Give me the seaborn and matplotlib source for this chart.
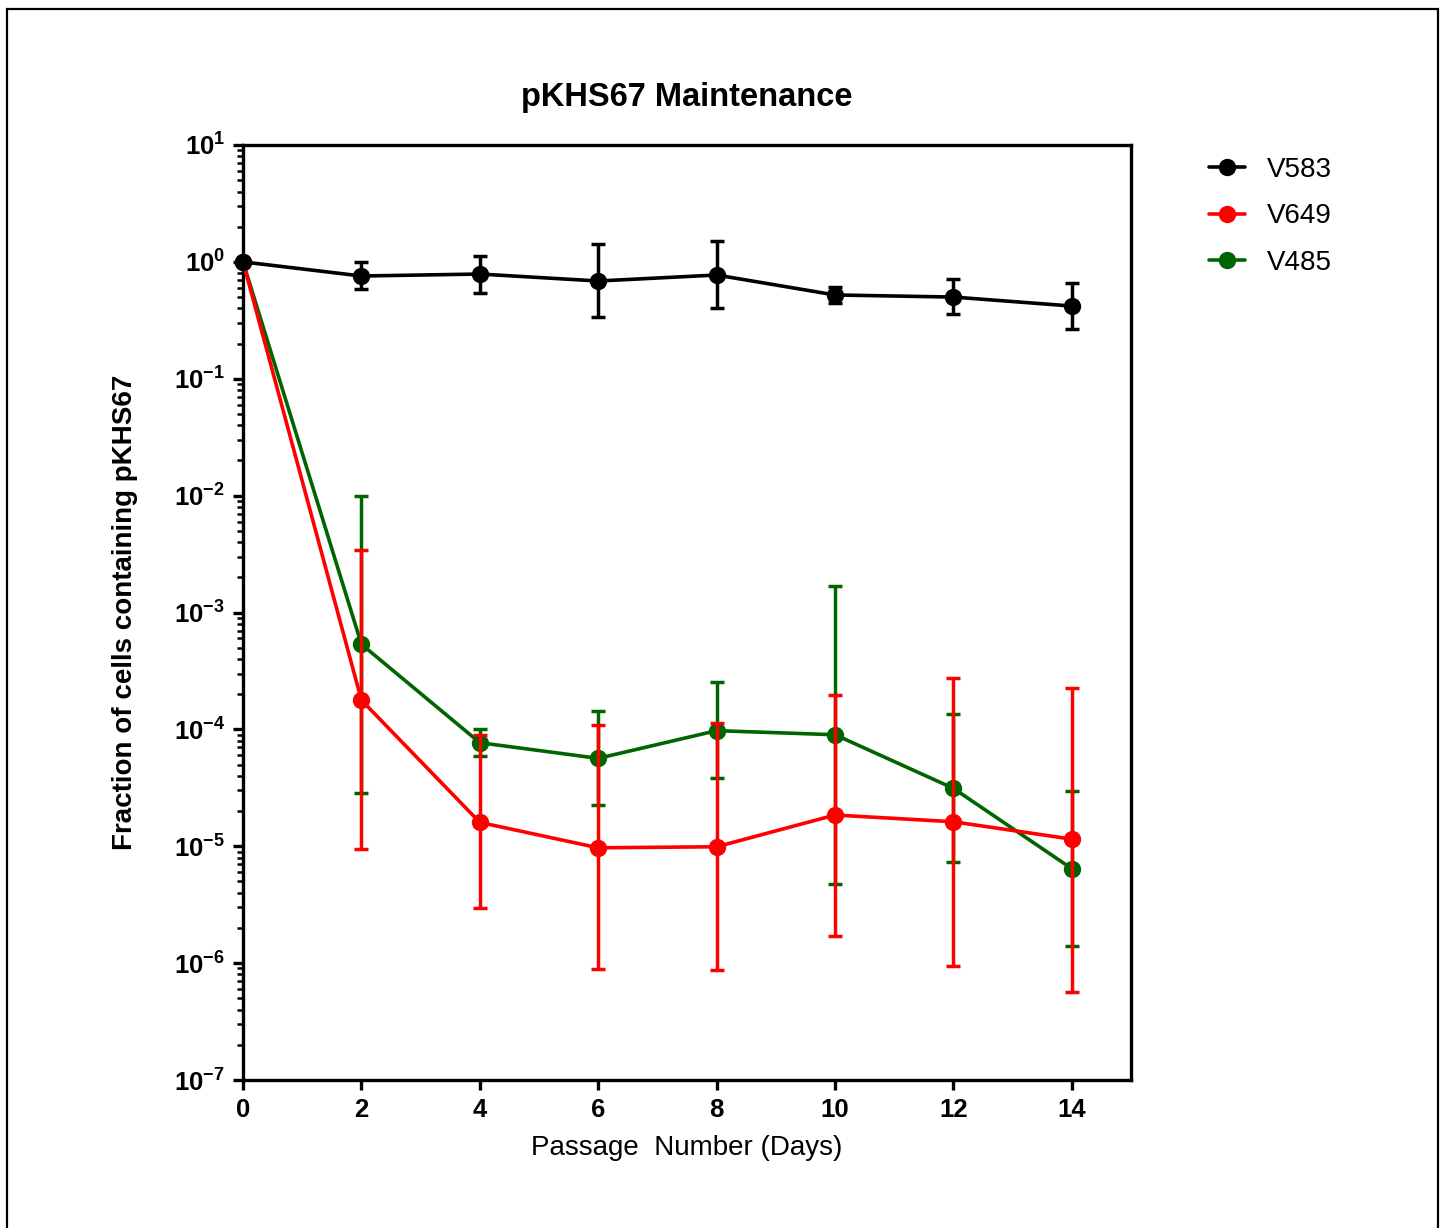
import matplotlib
matplotlib.use("Agg")
import matplotlib.pyplot as plt
from matplotlib.patches import Rectangle
from matplotlib.ticker import LogLocator, NullFormatter, FuncFormatter
import numpy as np
import pandas as pd
import seaborn as sns

days = [0, 2, 4, 6, 8, 10, 12, 14]
strains = ["V583", "V649", "V485"]
colors = {"V583": "black", "V649": "#ff0000", "V485": "#006400"}

# mean fraction, and lower / upper end of the error bar
v583_mean = [1.0, 0.757, 0.787, 0.686, 0.772, 0.521, 0.500, 0.419]
v583_lo = [1.0, 0.586, 0.542, 0.337, 0.403, 0.445, 0.358, 0.267]
v583_hi = [1.0, 1.00, 1.12, 1.42, 1.51, 0.610, 0.713, 0.66]

v649_mean = [1.0, 1.78e-4, 1.60e-5, 9.7e-6, 9.9e-6, 1.85e-5, 1.62e-5, 1.15e-5]
v649_lo = [1.0, 9.5e-6, 2.98e-6, 8.85e-7, 8.7e-7, 1.72e-6, 9.45e-7, 5.7e-7]
v649_hi = [1.0, 3.43e-3, 8.95e-5, 1.08e-4, 1.13e-4, 1.97e-4, 2.77e-4, 2.27e-4]

v485_mean = [1.0, 5.35e-4, 7.69e-5, 5.65e-5, 9.75e-5, 9.0e-5, 3.13e-5, 6.43e-6]
v485_lo = [1.0, 2.87e-5, 5.92e-5, 2.25e-5, 3.81e-5, 4.78e-6, 7.38e-6, 1.41e-6]
v485_hi = [1.0, 1.0e-2, 1.01e-4, 1.43e-4, 2.54e-4, 1.69e-3, 1.35e-4, 2.97e-5]

series = {
    "V583": (v583_mean, v583_lo, v583_hi),
    "V649": (v649_mean, v649_lo, v649_hi),
    "V485": (v485_mean, v485_lo, v485_hi),
}

df = pd.concat(
    [pd.DataFrame({"day": days, "frac": series[s][0], "strain": s}) for s in strains],
    ignore_index=True,
)

sns.set_style("ticks")
plt.rcParams["font.family"] = ["Liberation Sans", "DejaVu Sans"]
plt.rcParams["text.color"] = "black"
plt.rcParams["axes.labelcolor"] = "black"
plt.rcParams["xtick.color"] = "black"
plt.rcParams["ytick.color"] = "black"
plt.rcParams["axes.unicode_minus"] = False
plt.rcParams["mathtext.fontset"] = "custom"
plt.rcParams["mathtext.rm"] = "Liberation Sans:bold"
plt.rcParams["mathtext.it"] = "Liberation Sans:bold"
plt.rcParams["mathtext.bf"] = "Liberation Sans:bold"

fig = plt.figure(figsize=(14.45, 12.28), dpi=100)
ax = fig.add_axes([243 / 1445, 1 - 1080 / 1228, (1131 - 243) / 1445, (1080 - 145) / 1228])

# green first, red over it, black on top
zorders = {"V485": 3, "V649": 4, "V583": 5}
for s in ["V485", "V649", "V583"]:
    mean, lo, hi = (np.array(a) for a in series[s])
    sub = df[df["strain"] == s]
    ax.errorbar(days[1:], mean[1:], yerr=[mean[1:] - lo[1:], hi[1:] - mean[1:]],
                fmt="none", ecolor=colors[s], elinewidth=2.5, capsize=5, capthick=2.5,
                zorder=zorders[s], clip_on=False)
    sns.lineplot(data=sub, x="day", y="frac", color=colors[s], label=s, ax=ax,
                 marker="o", markersize=12.5, markeredgewidth=0, linewidth=2.6,
                 zorder=zorders[s] + 0.5, clip_on=False)

ax.set_yscale("log")
ax.set_ylim(1e-7, 1e1)
ax.set_xlim(0, 15)
ax.set_xticks(range(0, 15, 2))
ax.yaxis.set_major_locator(LogLocator(base=10, numticks=20))
ax.yaxis.set_major_formatter(FuncFormatter(lambda v, p: r"$\mathbf{10^{%d}}$" % round(np.log10(v))))
ax.yaxis.set_minor_locator(LogLocator(base=10, subs=np.arange(2, 10), numticks=20))
ax.yaxis.set_minor_formatter(NullFormatter())

for side in ["left", "bottom", "top", "right"]:
    ax.spines[side].set_linewidth(2.4)
    ax.spines[side].set_color("black")
ax.tick_params(axis="both", which="major", direction="out", length=7, width=2.4,
               labelsize=18.5, color="black", pad=6)
ax.tick_params(axis="y", which="minor", direction="out", length=4, width=1.8, color="black")
for lab in ax.get_xticklabels():
    lab.set_fontweight("bold")

ax.set_xlabel("Passage  Number (Days)", fontsize=20, labelpad=9)
ax.set_ylabel("Fraction of cells containing pKHS67", fontsize=20, fontweight="bold", labelpad=26)
ax.set_title("pKHS67 Maintenance", fontsize=23.5, fontweight="bold", pad=28)

handles, labels = ax.get_legend_handles_labels()
order = [labels.index(s) for s in strains]
ax.legend([handles[i] for i in order], strains, loc="upper left",
          bbox_to_anchor=(1.075, 0.999), frameon=False, fontsize=20,
          handlelength=1.3, handletextpad=0.8, labelspacing=0.73, borderaxespad=0)

fig.add_artist(Rectangle((7 / 1445, -0.01), (1438 - 7) / 1445, 1 - 9 / 1228 + 0.01,
                         transform=fig.transFigure, fill=False, lw=1.6, edgecolor="black"))

fig.savefig("out.png", dpi=100)
